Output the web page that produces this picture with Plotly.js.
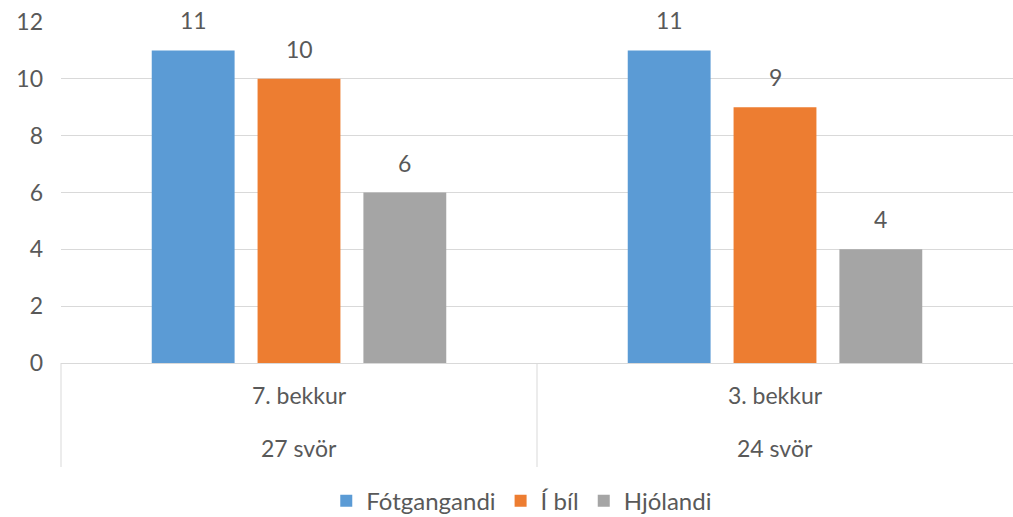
<!DOCTYPE html>
<html>
<head>
<meta charset="utf-8">
<script src="https://cdn.plot.ly/plotly-3.0.1.min.js"></script>
<style>html,body{margin:0;padding:0;background:#fff;}#chart{width:1013px;height:517px;}</style>
</head>
<body>
<div id="chart"></div>
<script>
const classes = ["7. bekkur", "3. bekkur"];
const answers = ["27 svör", "24 svör"];
const seriesNames = ["Fótgangandi", "Í bíl", "Hjólandi"];
const fotgangandi = [11, 11];
const iBil = [10, 9];
const hjolandi = [6, 4];
const colors = ["#5b9bd5", "#ed7d31", "#a5a5a5"];

const values = [fotgangandi, iBil, hjolandi];
const textColor = "#595959";
const fontFamily = "Lato, 'Noto Sans', sans-serif";
const fs = 23;
const bargap = 0.333;
const slot = (1 - bargap) / values.length;

const traces = values.map((v, i) => ({
  type: "bar",
  name: seriesNames[i],
  x: classes,
  y: v,
  marker: { color: colors[i] },
  hoverinfo: "skip"
}));

const annotations = [];
// data labels above bars
values.forEach((v, i) => {
  v.forEach((val, c) => {
    annotations.push({
      xref: "x", yref: "y",
      x: c + (i - (values.length - 1) / 2) * slot,
      y: val,
      text: String(val),
      showarrow: false,
      yanchor: "bottom",
      yshift: 14,
      font: { size: fs, color: textColor, family: fontFamily }
    });
  });
});
// second category row (number of answers)
answers.forEach((a, c) => {
  annotations.push({
    xref: "x", yref: "paper",
    x: c,
    y: -0.25,
    text: a,
    showarrow: false,
    yanchor: "middle",
    font: { size: fs, color: textColor, family: fontFamily }
  });
});

// category dividers below the axis
const shapes = [0, 0.5].map(px => ({
  type: "line",
  xref: "paper", yref: "paper",
  x0: px, x1: px, y0: 0, y1: -0.305,
  line: { color: "#d9d9d9", width: 1 }
}));

const layout = {
  width: 1013,
  height: 517,
  margin: { l: 61, r: 0, t: 22, b: 154, autoexpand: false },
  paper_bgcolor: "#ffffff",
  plot_bgcolor: "#ffffff",
  font: { family: fontFamily, color: textColor, size: fs },
  barmode: "group",
  bargap: bargap,
  bargroupgap: 0.217,
  showlegend: true,
  legend: {
    orientation: "h",
    x: 0.484,
    xanchor: "center",
    yref: "paper",
    y: -0.405,
    yanchor: "middle",
    font: { size: 24, color: textColor, family: fontFamily },
    itemwidth: 30
  },
  annotations: annotations,
  shapes: shapes,
  xaxis: {
    type: "category",
    range: [-0.5, classes.length - 0.5],
    automargin: false,
    showline: true,
    linecolor: "#d9d9d9",
    linewidth: 1,
    showgrid: false,
    ticks: "",
    ticklabelstandoff: 12,
    tickfont: { size: fs, color: textColor, family: fontFamily }
  },
  yaxis: {
    range: [0, 12],
    dtick: 2,
    tick0: 0,
    automargin: false,
    showgrid: true,
    gridcolor: "#d9d9d9",
    gridwidth: 1,
    zeroline: false,
    showline: false,
    ticks: "",
    ticklabelstandoff: 17,
    tickfont: { size: fs, color: textColor, family: fontFamily }
  }
};

Plotly.newPlot("chart", traces, layout, { displayModeBar: false, staticPlot: true });
</script>
</body>
</html>
